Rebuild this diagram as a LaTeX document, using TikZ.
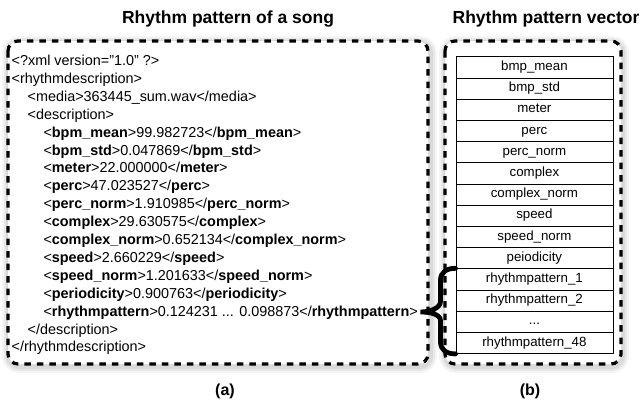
\documentclass[tikz,border=0pt]{standalone}
\usepackage{fontspec}
\setmainfont{Liberation Sans}
\usetikzlibrary{calc}
\newcommand{\mydots}{...}
\begin{document}
\begin{tikzpicture}[x=1pt,y=-1pt,
  xmlline/.style={anchor=base west, inner sep=0pt, font=\fontsize{14.4}{17}\selectfont},
  cell/.style={draw, line width=0.8pt, fill=white, minimum width=157pt, minimum height=21.2pt, inner sep=0pt, text height=9pt, text depth=2.5pt, font=\fontsize{13.3}{15}\selectfont, anchor=north west},
  titletext/.style={font=\fontsize{17.5}{20}\selectfont\bfseries},
  captiontext/.style={font=\fontsize{16}{19}\selectfont\bfseries},
  dashbox/.style={draw, line width=3.2pt, dash pattern=on 6.5pt off 6pt, rounded corners=10pt},
  glow/.style={draw=black, rounded corners=10pt},
  bracepath/.style={line width=4.8pt, line cap=round}]
\fill[white] (0,0) rectangle (640,405);
\useasboundingbox (0,0) rectangle (640,405);

% soft shadows
\foreach \w/\o in {14/0.04, 10/0.05, 6/0.06}{
  \draw[glow, line width=\w pt, opacity=\o] (9,43) rectangle (430,366);
  \draw[glow, line width=\w pt, opacity=\o] (446,43) rectangle (622,366);
}
\fill[white, rounded corners=10pt] (8,41) rectangle (428,364);
\fill[white, rounded corners=10pt] (445,41) rectangle (621,364);
\draw[dashbox] (8,41) rectangle (428,364);
\draw[dashbox] (445,41) rectangle (621,364);

% titles and captions
\node[titletext] (t1) at (228,19) {Rhythm pattern of a song};
\node[titletext] (t2) at (546,19) {Rhythm pattern vector};
\node[captiontext] (ca) at (225,391) {(a)};
\node[captiontext] (cb) at (530,391) {(b)};

% XML text
\def\la{11.5}\def\lb{27.5}\def\lc{43.3}
\node[xmlline] (x0) at (\la,{65.5+17.9*0}) {<?xml version="1.0" ?>};
\node[xmlline] (x1) at (\la,{65.5+17.9*1}) {<rhythmdescription>};
\node[xmlline] (x2) at (\lb,{65.5+17.9*2}) {<media>363445\_sum.wav</media>};
\node[xmlline] (x3) at (\lb,{65.5+17.9*3}) {<description>};
\node[xmlline] (x4) at (\lc,{65.5+17.9*4}) {<\textbf{bpm\_mean}>99.982723</\textbf{bpm\_mean}>};
\node[xmlline] (x5) at (\lc,{65.5+17.9*5}) {<\textbf{bpm\_std}>0.047869</\textbf{bpm\_std}>};
\node[xmlline] (x6) at (\lc,{65.5+17.9*6}) {<\textbf{meter}>22.000000</\textbf{meter}>};
\node[xmlline] (x7) at (\lc,{65.5+17.9*7}) {<\textbf{perc}>47.023527</\textbf{perc}>};
\node[xmlline] (x8) at (\lc,{65.5+17.9*8}) {<\textbf{perc\_norm}>1.910985</\textbf{perc\_norm}>};
\node[xmlline] (x9) at (\lc,{65.5+17.9*9}) {<\textbf{complex}>29.630575</\textbf{complex}>};
\node[xmlline] (x10) at (\lc,{65.5+17.9*10}) {<\textbf{complex\_norm}>0.652134</\textbf{complex\_norm}>};
\node[xmlline] (x11) at (\lc,{65.5+17.9*11}) {<\textbf{speed}>2.660229</\textbf{speed}>};
\node[xmlline] (x12) at (\lc,{65.5+17.9*12}) {<\textbf{speed\_norm}>1.201633</\textbf{speed\_norm}>};
\node[xmlline] (x13) at (\lc,{65.5+17.9*13}) {<\textbf{periodicity}>0.900763</\textbf{periodicity}>};
\node[xmlline] (x14) at (\lc,{65.5+17.9*14}) {<\textbf{rhythmpattern}>0.124231 ... 0.098873</\textbf{rhythmpattern}>};
\node[xmlline] (x15) at (\lb,{65.5+17.9*15}) {</description>};
\node[xmlline] (x16) at (\la,{65.5+17.9*16}) {</rhythmdescription>};

% vector table
\foreach \t [count=\i] in {bmp\_mean, bmp\_std, meter, perc, perc\_norm, complex, complex\_norm, speed, speed\_norm, peiodicity, rhythmpattern\_1, rhythmpattern\_2, \mydots, rhythmpattern\_48}{
  \node[cell] (r\i) at (455.5,{56.3+21.2*(\i-1)}) {\t};
}

% brace
\coordinate (bt) at (r11.north west);
\coordinate (bb) at (r14.south west);
\coordinate (tip) at ($(x14.east |- 0,312)+(2.5,0)$);
\draw[bracepath] (bt) .. controls +(-9,0) and +(0,-8) .. ($(bt)+(-15,12)$)
  -- ($(bt)+(-15,33)$) .. controls +(0,7) and +(9,0) .. (tip)
  .. controls +(9,0) and +(0,-7) .. ($(bb)+(-15,-33)$)
  -- ($(bb)+(-15,-12)$) .. controls +(0,8) and +(-9,0) .. (bb);
\end{tikzpicture}
\end{document}
